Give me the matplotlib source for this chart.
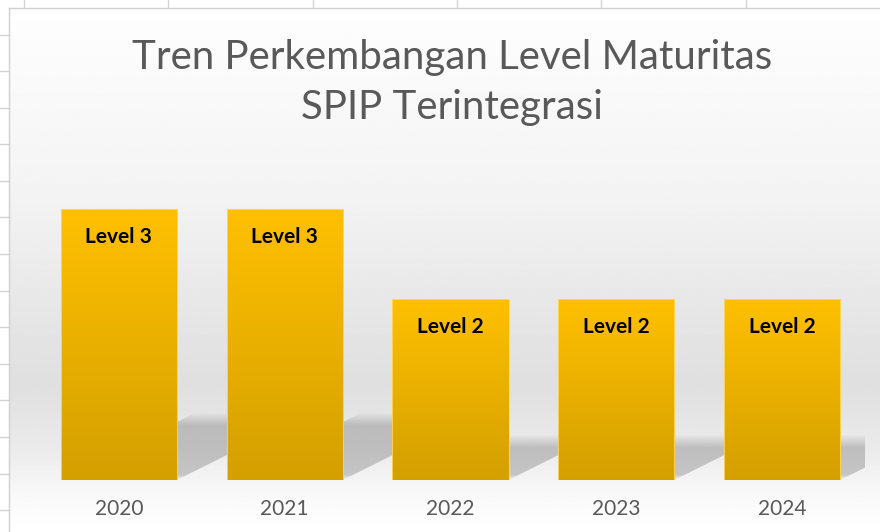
import numpy as np
import matplotlib
matplotlib.use("Agg")
import matplotlib.pyplot as plt
from matplotlib.colors import LinearSegmentedColormap
from matplotlib.patches import Polygon, Rectangle

# data
years = ["2020", "2021", "2022", "2023", "2024"]
levels = [3, 3, 2, 2, 2]
labels = ["Level 3", "Level 3", "Level 2", "Level 2", "Level 2"]
title_lines = ["Tren Perkembangan Level Maturitas", "SPIP Terintegrasi"]

W, H = 880, 532
fig = plt.figure(figsize=(W / 100, H / 100), dpi=100, facecolor="white")

# background: sheet grid + chart area gradient (pixel coords)
bg = fig.add_axes([0, 0, 1, 1])
bg.set_xlim(0, W)
bg.set_ylim(H, 0)
bg.axis("off")
for x in np.arange(24, W, 144.3):
    bg.plot([x, x], [0, 8], color="#d4d4d4", lw=1)
for y in np.arange(34.5, H, 36.6):
    bg.plot([0, 9], [y, y], color="#d4d4d4", lw=1)
ys = np.linspace(0, 1, 300)
stops_y = [0.0, 0.35, 0.62, 0.72, 0.85, 0.93, 1.0]
stops_v = [0.995, 0.955, 0.895, 0.875, 0.925, 0.975, 1.0]
grad = np.interp(ys, stops_y, stops_v)[:, None]
bg.imshow(np.repeat(grad, 2, axis=1), cmap="gray", vmin=0, vmax=1,
          extent=[9, W, H, 8], aspect="auto", interpolation="bilinear")
bg.plot([9, W], [8, 8], color="#d0d0d0", lw=1)
bg.plot([9, 9], [8, H], color="#d0d0d0", lw=1)

# chart axes
ax = fig.add_axes([36 / W, 52 / H, 829 / W, 325 / H])
ax.patch.set_alpha(0)
ax.set_xlim(-0.5, 4.5)
ax.set_ylim(0, 3.6)
for s in ax.spines.values():
    s.set_visible(False)
ax.set_yticks([])
ax.set_xticks(range(len(years)))
ax.set_xticklabels(years, fontsize=15, color="#595959", family="Lato")
ax.tick_params(axis="x", length=0, pad=14)

bar_w = 0.7
gold = LinearSegmentedColormap.from_list("gold", ["#d4a000", "#ffc000"])
ggrad = np.linspace(0, 1, 200)[:, None]

# px per data unit, to keep the shadow slope the same as the original
px_x = 829 / 5.0
px_y = 325 / 3.6

for i, (v, lab) in enumerate(zip(levels, labels)):
    xl, xr = i - bar_w / 2, i + bar_w / 2
    # perspective shadow falling back to the right
    hs = v * 0.25
    dx = 2 * hs * px_y / px_x
    poly = Polygon([(xl, 0), (xr, 0), (xr + dx, hs), (xl + dx, hs)],
                   closed=True, facecolor="none", edgecolor="none")
    ax.add_patch(poly)
    hh = np.linspace(0, hs, 120)
    a = np.clip((hs - hh) / (13 / px_y), 0, 1)
    a = np.minimum(a, np.clip(hh / (5 / px_y), 0, 1))
    rgba = np.zeros((120, 2, 4))
    rgba[..., 3] = 0.19 * a[:, None]
    sim = ax.imshow(rgba, extent=[xl, xr + dx, 0, hs], origin="lower",
                    aspect="auto", zorder=1, interpolation="bilinear")
    sim.set_clip_path(poly)

    im = ax.imshow(ggrad, cmap=gold, extent=[xl, xr, 0, v], origin="lower",
                   aspect="auto", zorder=2, interpolation="bilinear")
    rect = Rectangle((xl, 0), bar_w, v, facecolor="none", edgecolor="#ffd966",
                     lw=0.6, zorder=3)
    ax.add_patch(rect)
    im.set_clip_path(rect)
    ax.text(i, v - 0.31, lab, ha="center", va="center", fontsize=15,
            fontweight="bold", color="black", family="Lato", zorder=4)

ax.set_xlim(-0.5, 4.5)
ax.set_ylim(0, 3.6)

fig.text(452 / W, 1 - 57 / H, title_lines[0], ha="center", va="center",
         fontsize=29, color="#595959", family="Lato")
fig.text(452 / W, 1 - 108 / H, title_lines[1], ha="center", va="center",
         fontsize=29, color="#595959", family="Lato")

fig.savefig("out.png", dpi=100, facecolor="white")
